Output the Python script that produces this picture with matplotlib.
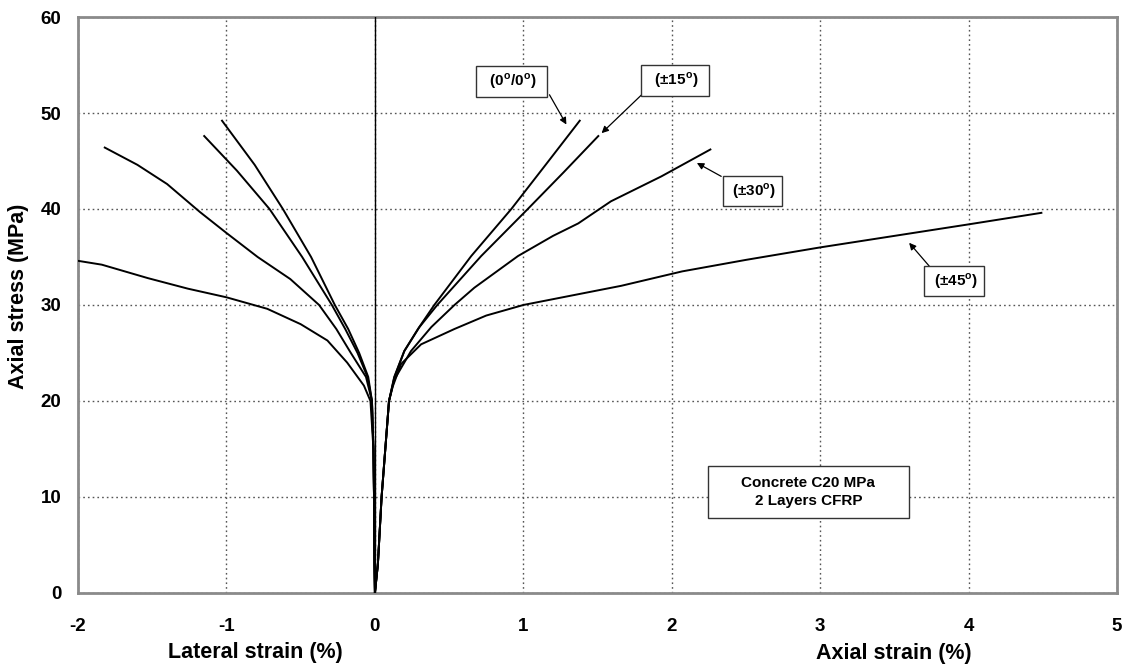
import matplotlib.pyplot as plt
from matplotlib.patches import Rectangle

plt.rcParams['font.family'] = ['Liberation Sans', 'DejaVu Sans']
plt.rcParams['font.weight'] = 'bold'
plt.rcParams['axes.unicode_minus'] = False
plt.rcParams['mathtext.fontset'] = 'custom'
plt.rcParams['mathtext.rm'] = 'Liberation Sans:bold'
plt.rcParams['mathtext.bf'] = 'Liberation Sans:bold'

# lateral strain branches (negative side)
lat_00_x = [0, -0.003, -0.006, -0.01, -0.02, -0.045, -0.106, -0.18, -0.27, -0.43, -0.62, -0.81, -1.03]
lat_00_y = [0, 3, 10, 15, 20, 22.5, 25, 27.5, 30, 35, 40, 44.6, 49.2]
lat_15_x = [0, -0.003, -0.006, -0.01, -0.02, -0.05, -0.117, -0.2, -0.29, -0.49, -0.71, -0.93, -1.15]
lat_15_y = [0, 3, 10, 15, 20, 22.5, 25, 27.5, 30, 35, 40, 44, 47.6]
lat_30_x = [0, -0.003, -0.006, -0.01, -0.02, -0.06, -0.162, -0.26, -0.376, -0.57, -0.79, -1.0, -1.18, -1.4, -1.6, -1.82]
lat_30_y = [0, 3, 10, 15, 20, 22.5, 25, 27.5, 30, 32.7, 35, 37.5, 39.7, 42.6, 44.6, 46.4]
lat_45_x = [0, -0.003, -0.006, -0.01, -0.03, -0.074, -0.187, -0.32, -0.5, -0.725, -1.0, -1.26, -1.53, -1.84, -2.0]
lat_45_y = [0, 3, 10, 15, 20, 21.6, 24.0, 26.3, 28.0, 29.6, 30.8, 31.7, 32.8, 34.2, 34.6]

# axial strain branches (positive side)
ax_00_x = [0, 0.02, 0.045, 0.07, 0.095, 0.13, 0.198, 0.29, 0.40, 0.649, 0.919, 1.15, 1.38]
ax_00_y = [0, 3, 10, 15, 20, 22.5, 25.2, 27.5, 30, 35.1, 40, 44.6, 49.2]
ax_15_x = [0, 0.02, 0.045, 0.07, 0.095, 0.13, 0.198, 0.30, 0.42, 0.716, 1.03, 1.27, 1.505]
ax_15_y = [0, 3, 10, 15, 20, 22.4, 25.2, 27.7, 30, 35.1, 40, 43.8, 47.6]
ax_30_x = [0, 0.02, 0.045, 0.07, 0.095, 0.13, 0.243, 0.38, 0.536, 0.67, 0.964, 1.2, 1.37, 1.59, 1.93, 2.26]
ax_30_y = [0, 3, 10, 15, 20, 22.2, 25.2, 27.7, 30, 31.8, 35.1, 37.2, 38.5, 40.8, 43.4, 46.2]
ax_45_x = [0, 0.02, 0.045, 0.07, 0.095, 0.12, 0.176, 0.311, 0.536, 0.75, 1.0, 1.66, 2.07, 2.5, 3.0, 3.5, 4.0, 4.49]
ax_45_y = [0, 3, 10, 15, 20, 21.5, 23.85, 25.9, 27.5, 28.9, 30, 32.0, 33.5, 34.7, 36.0, 37.2, 38.4, 39.6]

x_ticks = [-2, -1, 0, 1, 2, 3, 4, 5]
y_ticks = [0, 10, 20, 30, 40, 50, 60]

fig = plt.figure(figsize=(11.31, 6.70), dpi=100)
ax = fig.add_axes([0.069, 0.115, 0.9187, 0.8596])

ax.set_xlim(-2, 5)
ax.set_ylim(0, 60)
ax.set_xticks(x_ticks)
ax.set_yticks(y_ticks)
ax.tick_params(length=0, labelsize=13.5)
ax.tick_params(axis='x', pad=18)
ax.tick_params(axis='y', pad=12)
for lab in ax.get_xticklabels() + ax.get_yticklabels():
    lab.set_fontweight('bold')

ax.grid(True, color='#555555', linestyle=(0, (1.2, 2.2)), linewidth=1.0)
for s in ax.spines.values():
    s.set_color('#8a8a8a')
    s.set_linewidth(2)
ax.axvline(0, color='black', linewidth=1.0, zorder=3)

for xs, ys in [(lat_00_x, lat_00_y), (lat_15_x, lat_15_y), (lat_30_x, lat_30_y),
               (lat_45_x, lat_45_y), (ax_00_x, ax_00_y), (ax_15_x, ax_15_y),
               (ax_30_x, ax_30_y), (ax_45_x, ax_45_y)]:
    ax.plot(xs, ys, color='black', linewidth=1.4, zorder=4)

fig.text(0.016, 0.557, 'Axial stress (MPa)', fontsize=15.5, fontweight='bold',
         rotation=90, ha='center', va='center')
fig.text(0.226, 0.018, 'Lateral strain (%)', fontsize=15.5, fontweight='bold', ha='center')
fig.text(0.790, 0.016, 'Axial strain (%)', fontsize=15.5, fontweight='bold', ha='center')

box = dict(boxstyle='square,pad=0.35', facecolor='white', edgecolor='#333333', linewidth=1)
arrow = dict(arrowstyle='-|>', color='black', linewidth=0.9, mutation_scale=10,
             shrinkA=0, shrinkB=0)
# (text, text centre, arrow start, arrow tip)
labels = [
    (r'  (0$^{\mathrm{o}}$/0$^{\mathrm{o}}$)  ', (0.919, 53.3), (1.176, 51.9), (1.29, 48.8)),
    (r'  ($\pm$15$^{\mathrm{o}}$)  ', (2.02, 53.4), (1.797, 51.9), (1.527, 47.9)),
    (r' ($\pm$30$^{\mathrm{o}}$) ', (2.544, 41.9), (2.333, 43.4), (2.169, 44.8)),
    (r' ($\pm$45$^{\mathrm{o}}$) ', (3.903, 32.5), (3.734, 34.06), (3.599, 36.48)),
]
for txt, pos, start, tip in labels:
    ax.annotate('', xy=tip, xytext=start, arrowprops=arrow, zorder=5)
    ax.text(pos[0], pos[1], txt, fontsize=11, fontweight='bold',
            ha='center', va='center', bbox=box, zorder=6)

ax.add_patch(Rectangle((2.243, 7.82), 1.356, 5.37, facecolor='white',
                       edgecolor='#333333', linewidth=1, zorder=5))
ax.text(2.92, 10.5, 'Concrete C20 MPa\n2 Layers CFRP', fontsize=11, fontweight='bold',
        ha='center', va='center', linespacing=1.35, zorder=6)

fig.savefig('out.png', dpi=100)
